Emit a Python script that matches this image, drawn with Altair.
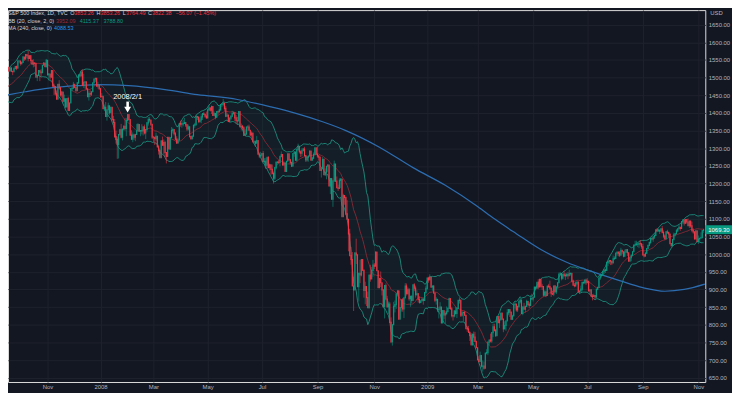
import altair as alt
import pandas as pd

# ---------------- data: daily S&P 500 candles [open, high, low, close] ----------------
aug_2007 = [[1454,1466,1451,1453],[1453,1456,1424,1427],[1427,1441,1405,1407],[1407,1415,1371,1411],
            [1411,1450,1411,1446],[1446,1456,1438,1446],[1446,1455,1436,1447],[1447,1466,1447,1464],
            [1464,1473,1454,1463],[1463,1479,1454,1479],[1479,1479,1466,1467],[1467,1467,1432,1432],
            [1432,1464,1432,1464],[1464,1468,1450,1458],[1458,1481,1458,1474]]
sep_2007 = [[1474,1496,1474,1489],[1489,1489,1466,1472],[1472,1481,1472,1479],[1479,1479,1449,1454],
            [1454,1462,1439,1452],[1452,1473,1452,1472],[1472,1479,1465,1472],[1472,1489,1472,1484],
            [1484,1485,1466,1484],[1484,1484,1471,1477],[1477,1519,1476,1520],[1520,1538,1519,1529],
            [1529,1529,1517,1519],[1519,1530,1519,1526],[1526,1530,1516,1518],[1518,1518,1507,1517],
            [1517,1529,1517,1525],[1525,1532,1525,1531],[1531,1534,1521,1527]]
oct_2007 = [[1527,1549,1527,1547],[1547,1548,1541,1547],[1547,1547,1534,1540],[1540,1545,1536,1543],
            [1543,1561,1543,1558],[1558,1558,1547,1553],[1553,1565,1551,1565],[1565,1565,1555,1562],
            [1562,1576,1546,1554],[1554,1563,1554,1562],[1562,1564,1540,1549],[1549,1549,1537,1538],
            [1538,1552,1529,1541],[1541,1542,1531,1540],[1540,1540,1501,1501],[1501,1509,1490,1506],
            [1506,1520,1506,1520],[1520,1520,1490,1516],[1516,1524,1503,1514],[1514,1535,1514,1535],
            [1535,1544,1535,1541],[1541,1541,1530,1531],[1531,1553,1529,1549]]
nov_2007 = [[1549,1549,1506,1508],[1508,1513,1492,1510],[1510,1510,1494,1502],[1502,1521,1499,1520],
            [1520,1520,1475,1476],[1476,1483,1451,1475],[1475,1475,1449,1454],[1454,1464,1439,1439],
            [1439,1482,1439,1481],[1481,1493,1466,1471],[1471,1474,1446,1451],[1451,1462,1443,1459],
            [1459,1459,1430,1433],[1433,1452,1420,1440],[1440,1440,1415,1417],[1417,1441,1417,1441],
            [1441,1446,1407,1407],[1407,1429,1407,1428],[1428,1469,1428,1469],[1469,1474,1462,1470],
            [1470,1488,1470,1481]]
dec_2007 = [[1481,1481,1470,1472],[1472,1472,1460,1463],[1463,1487,1463,1485],[1485,1508,1483,1507],
            [1507,1511,1500,1505],[1505,1518,1505,1516],[1516,1523,1476,1478],[1478,1511,1471,1487],
            [1487,1489,1469,1488],[1488,1488,1467,1468],[1468,1468,1446,1446],[1446,1461,1435,1455],
            [1455,1464,1445,1453],[1453,1461,1448,1460],[1460,1485,1460,1485],[1485,1497,1485,1496],
            [1496,1499,1488,1498],[1498,1498,1476,1476],[1476,1488,1469,1479],[1479,1479,1467,1468]]
jan_2008 = [[1468,1471,1442,1447],[1447,1456,1443,1447],[1447,1447,1411,1412],[1412,1424,1405,1416],
            [1416,1431,1389,1390],[1390,1409,1378,1409],[1409,1429,1396,1420],[1420,1420,1395,1401],
            [1401,1417,1401,1416],[1416,1416,1379,1381],[1381,1392,1364,1373],[1373,1383,1330,1333],
            [1333,1350,1313,1325],[1325,1333,1270,1311],[1311,1339,1271,1339],[1339,1355,1335,1352],
            [1352,1369,1328,1331],[1331,1354,1322,1354],[1354,1365,1350,1362],[1362,1386,1350,1356],
            [1356,1386,1334,1379]]
feb_2008 = [[1379,1396,1375,1395],[1395,1395,1380,1381],[1381,1381,1336,1337],[1337,1351,1324,1326],
            [1326,1345,1317,1337],[1337,1341,1324,1331],[1331,1341,1320,1339],[1339,1369,1339,1349],
            [1349,1371,1349,1367],[1367,1368,1347,1349],[1349,1350,1334,1350],[1350,1368,1339,1349],
            [1349,1363,1336,1360],[1360,1367,1339,1343],[1343,1354,1326,1353],[1353,1374,1347,1372],
            [1372,1388,1364,1381],[1381,1388,1373,1380],[1380,1380,1363,1368],[1368,1368,1326,1331]]
mar_2008 = [[1331,1335,1317,1331],[1331,1331,1309,1327],[1327,1344,1320,1334],[1334,1334,1303,1304],
            [1304,1310,1282,1293],[1293,1296,1273,1273],[1273,1321,1273,1321],[1321,1333,1307,1309],
            [1309,1325,1283,1316],[1316,1321,1274,1288],[1288,1288,1257,1277],[1277,1331,1277,1331],
            [1331,1331,1298,1298],[1298,1330,1295,1330],[1330,1360,1330,1350],[1350,1358,1342,1353],
            [1353,1353,1336,1341],[1341,1346,1322,1326],[1326,1334,1312,1315],[1315,1328,1313,1323]]
apr_2008 = [[1323,1370,1323,1370],[1370,1378,1361,1368],[1368,1376,1358,1369],[1369,1380,1362,1370],
            [1370,1386,1369,1373],[1373,1373,1360,1366],[1366,1368,1349,1355],[1355,1367,1350,1361],
            [1361,1361,1331,1333],[1333,1335,1323,1328],[1328,1337,1324,1334],[1334,1367,1334,1365],
            [1365,1372,1358,1366],[1366,1395,1366,1390],[1390,1390,1380,1388],[1388,1388,1371,1376],
            [1376,1387,1372,1380],[1380,1397,1371,1389],[1389,1398,1380,1398],[1398,1403,1394,1396],
            [1396,1397,1386,1391],[1391,1404,1384,1386]]
may_2008 = [[1386,1410,1385,1409],[1409,1422,1406,1414],[1414,1416,1404,1408],[1408,1421,1397,1418],
            [1418,1419,1392,1393],[1393,1404,1393,1398],[1398,1398,1382,1388],[1388,1404,1386,1404],
            [1404,1407,1395,1403],[1403,1421,1403,1409],[1409,1424,1405,1424],[1424,1427,1417,1425],
            [1425,1440,1419,1427],[1427,1427,1406,1413],[1413,1420,1388,1391],[1391,1401,1390,1394],
            [1394,1394,1374,1376],[1376,1388,1374,1385],[1385,1392,1379,1391],[1391,1406,1388,1398],
            [1398,1404,1396,1400]]
jun_2008 = [[1400,1400,1377,1386],[1386,1394,1370,1378],[1378,1389,1366,1377],[1377,1405,1377,1404],
            [1404,1404,1359,1361],[1361,1370,1350,1362],[1362,1366,1351,1358],[1358,1362,1335,1336],
            [1336,1354,1336,1340],[1340,1361,1340,1360],[1360,1365,1349,1360],[1360,1367,1351,1351],
            [1351,1351,1333,1338],[1338,1348,1324,1343],[1343,1343,1318,1318],[1318,1322,1312,1318],
            [1318,1322,1304,1314],[1314,1335,1314,1322],[1322,1322,1283,1283],[1283,1288,1272,1278],
            [1278,1290,1274,1280]]
jul_2008 = [[1280,1285,1262,1285],[1285,1292,1261,1262],[1262,1272,1252,1263],[1263,1273,1241,1252],
            [1252,1274,1241,1274],[1274,1277,1244,1245],[1245,1257,1237,1253],[1253,1253,1225,1240],
            [1240,1254,1228,1228],[1228,1234,1200,1215],[1215,1246,1210,1245],[1245,1263,1240,1260],
            [1260,1263,1252,1261],[1261,1267,1255,1260],[1260,1277,1249,1277],[1277,1291,1274,1282],
            [1282,1282,1251,1253],[1253,1263,1251,1258],[1258,1260,1234,1234],[1234,1263,1234,1263],
            [1263,1285,1263,1284],[1284,1285,1265,1267]]
aug_2008 = [[1267,1270,1254,1260],[1260,1260,1247,1249],[1249,1285,1249,1285],[1285,1292,1276,1289],
            [1289,1289,1265,1266],[1266,1297,1263,1296],[1296,1313,1293,1305],[1305,1306,1285,1290],
            [1290,1294,1275,1286],[1286,1300,1277,1293],[1293,1301,1292,1298],[1298,1304,1277,1279],
            [1279,1279,1261,1267],[1267,1277,1262,1275],[1275,1279,1262,1278],[1278,1294,1278,1292],
            [1292,1292,1264,1267],[1267,1276,1264,1272],[1272,1288,1270,1282],[1282,1301,1282,1301],
            [1301,1301,1282,1283]]
sep_2008 = [[1283,1304,1273,1278],[1278,1281,1265,1275],[1275,1275,1236,1237],[1237,1244,1217,1242],
            [1242,1275,1242,1268],[1268,1271,1224,1225],[1225,1243,1221,1232],[1232,1249,1212,1249],
            [1249,1255,1233,1252],[1252,1252,1192,1193],[1193,1215,1170,1214],[1214,1214,1155,1156],
            [1156,1211,1134,1207],[1207,1265,1207,1255],[1255,1255,1205,1207],[1207,1220,1187,1188],
            [1188,1197,1179,1186],[1186,1215,1186,1209],[1209,1215,1187,1213],[1213,1213,1106,1106],
            [1106,1171,1106,1166]]
oct_2008 = [[1166,1167,1140,1161],[1161,1161,1111,1114],[1114,1153,1098,1099],[1099,1099,1008,1057],
            [1057,1072,996,996],[996,1021,970,985],[985,1006,910,910],[910,936,839,899],
            [899,1006,899,1003],[1003,1044,972,998],[998,998,908,908],[908,947,866,946],
            [946,984,918,941],[941,985,937,985],[985,985,952,955],[955,955,877,897],
            [897,922,858,908],[908,908,853,877],[877,894,846,849],[849,941,845,941],
            [941,970,922,930],[930,964,930,954],[954,984,936,969]]
nov_2008 = [[969,975,958,966],[966,1007,966,1006],[1006,1006,952,953],[953,953,904,905],
            [905,932,905,931],[931,951,907,919],[919,919,883,899],[899,899,852,852],
            [852,912,818,911],[911,917,869,873],[873,882,848,851],[851,866,830,859],
            [859,865,806,807],[807,821,748,752],[752,801,741,800],[800,865,800,852],
            [852,869,835,857],[857,888,845,888],[888,897,880,896]]
dec_2008 = [[896,896,815,816],[816,850,816,849],[849,871,837,871],[871,876,837,845],
            [845,879,819,876],[876,918,876,910],[910,917,883,889],[889,906,885,899],
            [899,904,868,874],[874,883,851,880],[880,884,860,869],[869,914,869,913],
            [913,918,895,904],[904,911,877,885],[885,898,883,888],[888,890,863,872],
            [872,881,860,863],[863,869,861,868],[868,874,866,873],[873,874,857,869],
            [869,891,869,891],[891,911,889,903]]
jan_2009 = [[903,934,899,932],[932,936,919,927],[927,943,927,935],[935,935,904,907],
            [907,911,896,910],[910,912,888,890],[890,890,864,870],[870,878,857,872],
            [872,872,836,843],[843,851,818,844],[844,864,836,850],[850,850,805,805],
            [805,841,805,840],[840,840,816,828],[828,838,804,832],[832,852,827,837],
            [837,850,836,846],[846,877,846,874],[874,874,844,845],[845,851,821,826]]
feb_2009 = [[826,826,812,825],[825,842,821,839],[839,851,829,832],[832,850,819,846],
            [846,870,846,869],[869,878,860,870],[870,870,822,827],[827,839,823,834],
            [834,835,809,835],[835,839,825,827],[827,827,789,789],[789,797,780,788],
            [788,797,777,779],[779,779,754,770],[770,777,743,743],[743,775,743,773],
            [773,781,751,765],[765,780,752,753],[753,753,735,735]]
mar_2009 = [[735,735,700,701],[701,711,693,696],[696,724,696,713],[713,713,679,683],
            [683,699,667,683],[683,696,673,677],[677,720,677,720],[720,731,716,721],
            [721,752,714,751],[751,758,742,757],[757,775,750,754],[754,778,749,778],
            [778,803,765,794],[794,803,781,784],[784,788,766,769],[769,823,769,823],
            [823,823,805,806],[806,826,791,814],[814,833,814,833],[833,833,814,816],
            [816,816,779,788],[788,810,788,798]]
apr_2009 = [[798,811,783,811],[811,845,811,834],[834,843,827,843],[843,843,822,836],
            [836,836,814,816],[816,828,814,825],[825,857,825,857],[857,864,846,859],
            [859,859,837,842],[842,853,836,852],[852,870,848,865],[865,876,860,870],
            [870,870,832,832],[832,852,827,850],[850,862,843,844],[844,852,835,852],
            [852,871,852,866],[866,868,854,858],[858,864,847,855],[855,883,855,874],
            [874,888,870,873]]
may_2009 = [[873,880,866,878],[878,907,878,907],[907,907,897,904],[904,920,903,920],
            [920,929,901,907],[907,930,907,929],[929,929,905,909],[909,916,899,908],
            [908,908,880,884],[884,898,882,893],[893,897,878,883],[883,910,883,910],
            [910,916,905,908],[908,925,899,904],[904,904,879,888],[888,897,884,887],
            [887,911,881,910],[910,913,892,893],[893,909,887,907],[907,920,903,919]]
jun_2009 = [[919,948,919,943],[943,950,938,945],[945,945,926,932],[932,943,928,943],
            [943,952,935,940],[940,946,927,939],[939,947,936,942],[942,949,929,939],
            [939,956,939,945],[945,947,939,946],[946,946,920,924],[924,928,911,912],
            [912,919,906,911],[911,922,907,918],[918,922,913,921],[921,922,893,893],
            [893,898,888,895],[895,911,895,901],[901,921,896,920],[920,922,915,919],
            [919,928,916,927],[927,931,913,919]]
jul_2009 = [[919,932,919,923],[923,923,896,896],[896,899,886,899],[899,899,879,881],
            [881,887,869,880],[880,888,878,883],[883,884,872,879],[879,901,875,901],
            [901,907,898,906],[906,933,906,933],[933,942,927,941],[941,941,934,940],
            [940,951,940,951],[951,956,943,955],[955,959,947,954],[954,979,953,976],
            [976,979,966,979],[979,983,972,982],[982,982,969,980],[980,980,969,975],
            [975,996,975,987],[987,994,984,988]]
aug_2009 = [[988,1003,988,1003],[1003,1006,996,1006],[1006,1006,994,1003],[1003,1009,992,997],
            [997,1018,997,1011],[1011,1011,1000,1007],[1007,1007,991,994],[994,1013,993,1006],
            [1006,1013,1003,1013],[1013,1013,995,1004],[1004,1004,980,980],[980,991,980,990],
            [990,999,980,997],[997,1008,994,1007],[1007,1027,1007,1026],[1026,1038,1022,1026],
            [1026,1038,1026,1028],[1028,1033,1020,1028],[1028,1032,1017,1031],[1031,1040,1022,1029],
            [1029,1029,1015,1021]]
sep_2009 = [[1021,1029,996,998],[998,1001,991,995],[995,1004,993,1003],[1003,1017,1001,1016],
            [1016,1026,1016,1025],[1025,1036,1023,1033],[1033,1044,1028,1044],[1044,1048,1039,1043],
            [1043,1050,1035,1049],[1049,1056,1043,1053],[1053,1069,1052,1069],[1069,1074,1062,1066],
            [1066,1071,1064,1068],[1068,1068,1057,1065],[1065,1073,1065,1072],[1072,1080,1060,1061],
            [1061,1067,1045,1051],[1051,1056,1041,1044],[1044,1065,1044,1063],[1063,1069,1057,1061],
            [1061,1064,1047,1057]]
oct_2009 = [[1057,1057,1029,1030],[1030,1031,1020,1025],[1025,1043,1025,1041],[1041,1061,1041,1055],
            [1055,1058,1050,1058],[1058,1071,1058,1066],[1066,1073,1063,1072],[1072,1082,1070,1076],
            [1076,1076,1066,1073],[1073,1094,1073,1092],[1092,1097,1086,1097],[1097,1097,1081,1088],
            [1088,1099,1086,1098],[1098,1099,1086,1091],[1091,1101,1080,1081],[1081,1096,1074,1093],
            [1093,1096,1075,1080],[1080,1092,1062,1067],[1067,1073,1058,1063],[1063,1063,1042,1043],
            [1043,1067,1043,1066],[1066,1066,1034,1036]]
nov_2009 = [[1036,1053,1029,1043],[1043,1046,1034,1045],[1045,1062,1045,1047],[1047,1067,1047,1067],
            [1067,1072,1060,1069.30]]

months = [("2007-08", aug_2007), ("2007-09", sep_2007), ("2007-10", oct_2007), ("2007-11", nov_2007),
          ("2007-12", dec_2007), ("2008-01", jan_2008), ("2008-02", feb_2008), ("2008-03", mar_2008),
          ("2008-04", apr_2008), ("2008-05", may_2008), ("2008-06", jun_2008), ("2008-07", jul_2008),
          ("2008-08", aug_2008), ("2008-09", sep_2008), ("2008-10", oct_2008), ("2008-11", nov_2008),
          ("2008-12", dec_2008), ("2009-01", jan_2009), ("2009-02", feb_2009), ("2009-03", mar_2009),
          ("2009-04", apr_2009), ("2009-05", may_2009), ("2009-06", jun_2009), ("2009-07", jul_2009),
          ("2009-08", aug_2009), ("2009-09", sep_2009), ("2009-10", oct_2009), ("2009-11", nov_2009)]

tick_months = ["2007-11", "2008-01", "2008-03", "2008-05", "2008-07", "2008-09", "2008-11",
               "2009-01", "2009-03", "2009-05", "2009-07", "2009-09", "2009-11"]
tick_labels = ["Nov", "2008", "Mar", "May", "Jul", "Sep", "Nov",
               "2009", "Mar", "May", "Jul", "Sep", "Nov"]

# MA(240), by trading-day number
ma_day = [20, 40, 58, 80, 97, 120, 148, 173, 204, 230, 250, 270, 288, 314, 340, 365,
          390, 403, 420, 439, 459, 480, 500, 518, 535, 550, 566]
ma_value = [1447, 1460, 1470, 1477, 1480, 1477, 1466, 1452, 1438, 1417, 1398, 1375, 1350, 1303, 1245, 1195,
            1135, 1100, 1058, 1013, 977, 949, 925, 905, 895, 900, 915]

price_ticks = list(range(650, 1651, 50))

annot_month = "2008-02"
annot_text = "2008/2/1"

header_title = "S&P 500 Index, 1D, TVC"
header_ohlc = ["3853.26", "3853.26", "3764.49", "3822.38"]
header_change = "\u221256.07 (\u22121.45%)"
bb_label = "BB (20, close, 2, 0)"
bb_values = ["3952.09", "4115.37", "3788.80"]
ma_label = "MA (240, close, 0)"
ma_header_value = "4088.53"

# ---------------- build tables ----------------
rows = []
month_start = {}
for key, arr in months:
    month_start[key] = len(rows)
    for o, h, l, c in arr:
        rows.append({"i": len(rows), "o": o, "h": h, "l": l, "c": c})
df = pd.DataFrame(rows)
ma_df = pd.DataFrame({"i": ma_day, "ma": ma_value})
tick_pos = [month_start[m] for m in tick_months]
annot_df = pd.DataFrame({"i": [month_start[annot_month]], "t": [annot_text]})
last_df = df.tail(1)

# ---------------- styling ----------------
BG = "#131722"
GRID = "#1e222d"
TXT = "#b2b5be"
LBL = "#d1d4dc"
UP = "#089981"
DOWN = "#f23645"
BAND = "#1e9e8a"
BASIS = "#9b2c38"
MA_C = "#2c6cb0"
FONT = "Liberation Sans"
FS = 6
HFS = 5.5

W, H = 705, 376

label_expr = "''"
for p, lab in reversed(list(zip(tick_pos, tick_labels))):
    label_expr = f"datum.value == {p} ? '{lab}' : ({label_expr})"

XS = alt.Scale(domain=[26.36, 566.35], nice=False, zero=False)
YS = alt.Scale(domain=[638, 1691.2], nice=False, zero=False)
XA = alt.Axis(values=tick_pos, labelExpr=label_expr, title=None, grid=True, gridColor=GRID,
              domain=False, ticks=False, tickSize=0, labelPadding=1.5, labelColor=TXT,
              labelFontSize=FS, labelFont=FONT, labelFlush=False)
YA = alt.Axis(values=price_ticks, format=".2f", orient="right", title=None, grid=True, gridColor=GRID,
              domain=False, ticks=False, tickSize=0, labelPadding=3, labelColor=TXT,
              labelFontSize=FS, labelFont=FONT, labelAlign="left", labelFlush=False)


def X(field="i:Q"):
    return alt.X(field, scale=XS, axis=XA)


def Y(field):
    return alt.Y(field, scale=YS, axis=YA)


base = alt.Chart(df)
bb = base.transform_window(
    basis="mean(c)", sd="stdevp(c)", frame=[-19, 0], sort=[alt.SortField("i")]
).transform_calculate(
    upper="datum.basis + 2 * datum.sd", lower="datum.basis - 2 * datum.sd"
).transform_filter("datum.i >= 19")

bb_fill = bb.mark_area(color=BAND, opacity=0.055, clip=True).encode(x=X(), y=Y("upper:Q"), y2="lower:Q")
bb_up = bb.mark_line(color=BAND, strokeWidth=0.8, clip=True).encode(x=X(), y=Y("upper:Q"))
bb_lo = bb.mark_line(color=BAND, strokeWidth=0.8, clip=True).encode(x=X(), y=Y("lower:Q"))
bb_mid = bb.mark_line(color=BASIS, strokeWidth=0.8, clip=True).encode(x=X(), y=Y("basis:Q"))

ma_line = alt.Chart(ma_df).mark_line(color=MA_C, strokeWidth=1.25, interpolate="monotone", clip=True).encode(
    x=X(), y=Y("ma:Q"))

candle_color = alt.condition("datum.c >= datum.o", alt.value(UP), alt.value(DOWN))
wicks = base.mark_rule(strokeWidth=0.6, clip=True).encode(x=X(), y=Y("l:Q"), y2="h:Q", color=candle_color)
bodies = base.mark_rule(strokeWidth=1.15, strokeCap="square", clip=True).encode(
    x=X(), y=Y("o:Q"), y2="c:Q", color=candle_color)

annot_txt = alt.Chart(annot_df).mark_text(color="#ffffff", fontSize=7.5, font=FONT, baseline="middle").encode(
    x=X(), y=alt.value(88), text="t:N")
annot_shaft = alt.Chart(annot_df).mark_rule(color="#ffffff", strokeWidth=2.6).encode(
    x=X(), y=alt.value(92.5), y2=alt.value(98.5))
annot_head = alt.Chart(annot_df).mark_point(shape="triangle-down", filled=True, size=48, color="#ffffff",
                                            opacity=1).encode(x=X(), y=alt.value(100.6))

last_box = alt.Chart(last_df).mark_rule(color=UP, strokeWidth=9).encode(
    x=alt.value(W), x2=alt.value(W + 27), y=Y("c:Q"))
last_txt = alt.Chart(last_df).mark_text(color="#ffffff", fontSize=FS, font=FONT, align="left",
                                        baseline="middle").encode(
    x=alt.value(W + 3), y=Y("c:Q"), text=alt.Text("c:Q", format=".2f"))


def label(text, x, y, color, size=HFS):
    return alt.Chart(alt.Data(values=[{}])).mark_text(
        text=text, color=color, fontSize=size, font=FONT, align="left", baseline="middle"
    ).encode(x=alt.value(x), y=alt.value(y))


L1, L2, L3 = 3.2, 10.6, 18
header = [
    label(header_title, 0, L1, LBL),
    label("O", 63, L1, LBL), label(header_ohlc[0], 67, L1, DOWN),
    label("H", 89.5, L1, LBL), label(header_ohlc[1], 93.5, L1, DOWN),
    label("L", 116, L1, LBL), label(header_ohlc[2], 119.2, L1, DOWN),
    label("C", 141.5, L1, LBL), label(header_ohlc[3], 145.5, L1, DOWN),
    label(header_change, 169.5, L1, DOWN),
    label(bb_label, 0, L2, LBL),
    label(bb_values[0], 48.5, L2, BASIS), label(bb_values[1], 72.5, L2, UP), label(bb_values[2], 96.5, L2, UP),
    label(ma_label, 0, L3, LBL),
    label(ma_header_value, 46.5, L3, "#2196f3"),
    label("USD", W + 5, L1, TXT, FS),
]

chart = alt.layer(
    bb_fill, bb_up, bb_lo, bb_mid, ma_line, wicks, bodies,
    annot_txt, annot_shaft, annot_head, last_box, last_txt, *header
).properties(
    width=W, height=H,
    autosize=alt.AutoSizeParams(type="none"),
    padding={"left": 0, "top": 0, "right": 27, "bottom": 9},
    background=BG,
).configure_view(stroke=None).configure(font=FONT)

chart.save("out.html", embed_options={"renderer": "svg", "actions": False})
